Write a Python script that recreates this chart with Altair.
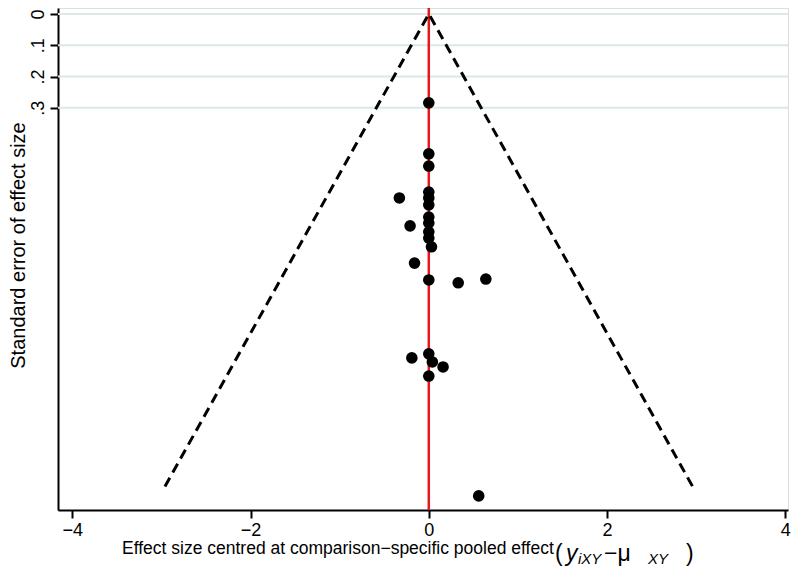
import altair as alt
import pandas as pd

# Data
effect = [0.0, 0.0, 0.0, -0.33, 0.0, 0.0, 0.0, 0.0, 0.0, -0.21, 0.0, 0.0, 0.03,
          -0.16, 0.0, 0.33, 0.64, -0.19, 0.0, 0.04, 0.16, 0.0, 0.56]
stderr = [0.284, 0.447, 0.486, 0.588, 0.569, 0.588, 0.610, 0.649, 0.668, 0.677,
          0.696, 0.716, 0.744, 0.796, 0.850, 0.859, 0.847, 1.099, 1.086, 1.112,
          1.128, 1.157, 1.540]

funnel_x = [-2.96, 0.0, 2.96]
funnel_se = [1.51, 0.0, 1.51]
funnel_order = [0, 1, 2]

grid_se = [0.0, 0.1, 0.2, 0.3]
y_ticks = [0.0, 0.1, 0.2, 0.3]
x_ticks = [-4, -2, 0, 2, 4]

x_title = "Effect size centred at comparison\u2212specific pooled effect"
y_title = "Standard error of effect size"
formula_text = ["(", "y", "iXY", "\u2212\u03bc", "XY", ")"]

FONT = "Liberation Sans"
X_DOMAIN = [-4.16, 4.03]
Y_DOMAIN = [-0.019, 1.585]

pts = pd.DataFrame({"x": effect, "se": stderr})
fun = pd.DataFrame({"x": funnel_x, "se": funnel_se, "o": funnel_order})
grid = pd.DataFrame({"se": grid_se})
zero = pd.DataFrame({"x": [0.0]})

xs = alt.Scale(domain=X_DOMAIN, nice=False, zero=False)
ys = alt.Scale(domain=Y_DOMAIN, nice=False, zero=False, reverse=True)

gridlines = alt.Chart(grid).mark_rule(color="#dce8ea", strokeWidth=2).encode(
    y=alt.Y("se:Q", scale=ys, axis=alt.Axis(
        values=y_ticks, title=y_title,
        labelExpr="datum.value == 0 ? '0' : '.' + round(datum.value * 10)",
        labelAngle=270, labelAlign="center", labelBaseline="bottom",
        labelPadding=3, labelFontSize=18, labelFont=FONT, labelColor="black",
        titleFont=FONT, titleFontSize=20, titleFontWeight="normal", titleColor="black",
        titleAngle=270, titleAlign="center", titleBaseline="middle",
        titleX=-40, titleY=237,
        tickSize=8, tickWidth=2, tickColor="black",
        domainColor="black", domainWidth=2, grid=False)),
)

redline = alt.Chart(zero).mark_rule(color="#e3191c", strokeWidth=2.5).encode(
    x=alt.X("x:Q", scale=xs, axis=alt.Axis(
        values=x_ticks, format="d", title=None,
        labelPadding=3, labelFontSize=18, labelFont=FONT, labelColor="black",
        tickSize=8, tickWidth=2, tickColor="black",
        domainColor="black", domainWidth=2, grid=False)),
)

funnel = alt.Chart(fun).mark_line(color="black", strokeWidth=3, strokeDash=[10, 6]).encode(
    x=alt.X("x:Q", scale=xs),
    y=alt.Y("se:Q", scale=ys),
    order="o:O",
)

points = alt.Chart(pts).mark_circle(color="black", opacity=1, size=135).encode(
    x=alt.X("x:Q", scale=xs),
    y=alt.Y("se:Q", scale=ys),
)

xtitle = alt.Chart(pd.DataFrame({"t": [x_title]})).mark_text(
    font=FONT, fontSize=17.5, align="left", baseline="alphabetic", color="black"
).encode(text="t:N", x=alt.value(64), y=alt.value(546))

# formula pieces: positions in view pixels (plot origin at page x=58, y=8)
formula_dx = [497, 508, 520, 546, 590, 628]
formula_dy = [553, 553, 556, 553, 556, 553]
formula_size = [23, 23, 15, 23, 15, 23]
formula_style = ["normal", "italic", "italic", "normal", "italic", "normal"]
fparts = []
for t, dx, dy, s, st in zip(formula_text, formula_dx, formula_dy, formula_size, formula_style):
    fparts.append(
        alt.Chart(pd.DataFrame({"t": [t]})).mark_text(
            font=FONT, fontSize=s, fontStyle=st, align="left",
            baseline="alphabetic", color="black"
        ).encode(text="t:N", x=alt.value(dx), y=alt.value(dy))
    )

chart = alt.layer(gridlines, redline, funnel, points, xtitle, *fparts).properties(
    width=730, height=502,
    autosize=alt.AutoSizeParams(type="none"),
    padding={"left": 50, "top": 0, "right": 4, "bottom": 58},
).configure_view(stroke=None).configure(background="white")

chart.save("out.html", embed_options={"renderer": "svg", "actions": False})
